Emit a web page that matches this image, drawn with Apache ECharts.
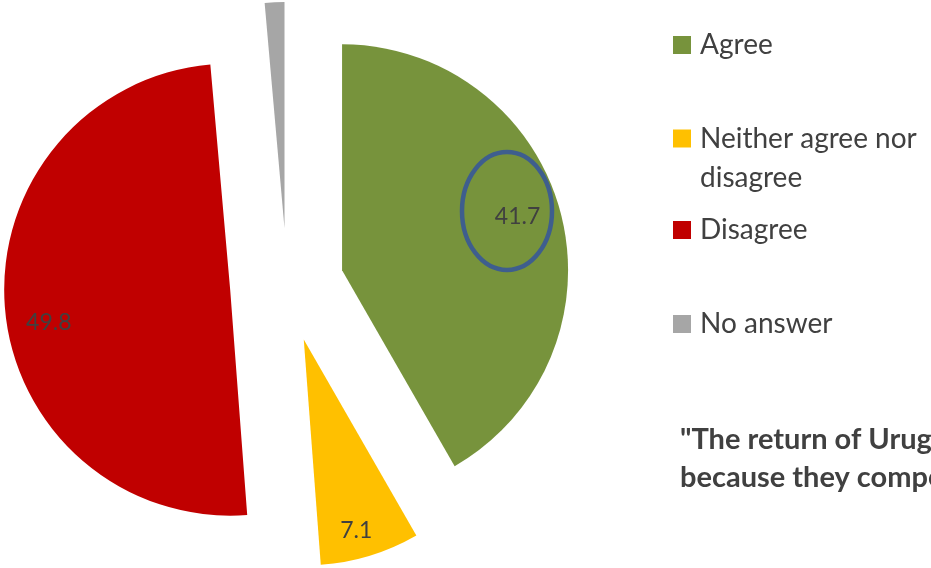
<!DOCTYPE html>
<html>
<head>
<meta charset="utf-8">
<script src="https://cdn.jsdelivr.net/npm/echarts@6/dist/echarts.min.js"></script>
<style>
  html, body { margin: 0; padding: 0; background: #ffffff; }
  #chart { width: 931px; height: 568px; }
</style>
</head>
<body>
<div id="chart"></div>
<script>
// Survey answers (percent of respondents)
const categories = ['Agree', 'Neither agree nor disagree', 'Disagree', 'No answer'];
const shares = [41.7, 7.1, 49.8, 1.4];
const showValue = [true, true, true, false];
const legendLabels = ['Agree', 'Neither agree nor\ndisagree', 'Disagree', 'No answer'];
const statement = '"The return of Uruguayans is bad for the country\nbecause they compete for jobs"';

const palette = ['#77933C', '#FFC000', '#C00000', '#A6A6A6'];
const textColor = '#404040';
const font = 'Lato, "Open Sans", sans-serif';

const center = [287, 285];
const outerR = 226;
const explode = 57;

// small hand nudges for the value labels, per slice
const labelNudge = [[-10, -4], [-4, 8], [10, 17], [0, 0]];

const chart = echarts.init(document.getElementById('chart'), null, { renderer: 'canvas' });

const sliceData = categories.map((name, i) => ({ name, value: shares[i], selected: true }));
const labelData = categories.map((name, i) => ({
  name, value: shares[i], selected: true, label: { show: showValue[i] }
}));

// one legend block per answer so each row can sit on its own line
const legendTops = [30, 80, 215, 309];
const legends = categories.map((name, i) => {
  const twoLine = legendLabels[i].indexOf('\n') >= 0;
  return {
    data: [name],
    left: 673,
    top: legendTops[i],
    orient: 'vertical',
    padding: 0,
    icon: 'rect',
    itemWidth: 18,
    itemHeight: 18,
    selectedMode: false,
    // the wrapped entry gets an empty first line so the marker sits beside its first line
    formatter: () => (twoLine ? '\n' : '') + legendLabels[i],
    textStyle: {
      fontFamily: font,
      fontSize: 28,
      color: textColor,
      lineHeight: twoLine ? 39 : 30,
      padding: [0, 0, 0, 4]
    }
  };
});

chart.setOption({
  animation: false,
  color: palette,
  legend: legends,
  title: {
    text: statement,
    left: 680,
    top: 421,
    padding: 0,
    textStyle: {
      fontFamily: font,
      fontSize: 29,
      fontWeight: 'bold',
      color: textColor,
      lineHeight: 38
    }
  },
  graphic: [{
    type: 'ellipse',
    shape: { cx: 507, cy: 211, rx: 45, ry: 59 },
    style: { fill: 'none', stroke: '#3E5E8E', lineWidth: 4.5 },
    z: 100,
    silent: true
  }],
  series: [
    {
      type: 'pie',
      center: center,
      radius: [0, outerR],
      startAngle: 90,
      clockwise: true,
      selectedMode: 'multiple',
      selectedOffset: explode,
      avoidLabelOverlap: false,
      label: { show: false },
      labelLine: { show: false },
      emphasis: { disabled: true },
      itemStyle: { borderWidth: 0 },
      data: sliceData
    },
    {
      // transparent ring carrying the value labels out near the rim
      type: 'pie',
      center: center,
      radius: [152, outerR],
      startAngle: 90,
      clockwise: true,
      selectedMode: 'multiple',
      selectedOffset: explode,
      silent: true,
      legendHoverLink: false,
      avoidLabelOverlap: false,
      emphasis: { disabled: true },
      itemStyle: { color: 'rgba(0,0,0,0)', borderWidth: 0 },
      label: {
        show: true,
        position: 'inside',
        formatter: '{c}',
        fontFamily: font,
        fontSize: 23,
        color: textColor
      },
      labelLayout: (params) => ({
        dx: labelNudge[params.dataIndex][0],
        dy: labelNudge[params.dataIndex][1]
      }),
      labelLine: { show: false },
      data: labelData
    }
  ]
});
</script>
</body>
</html>
